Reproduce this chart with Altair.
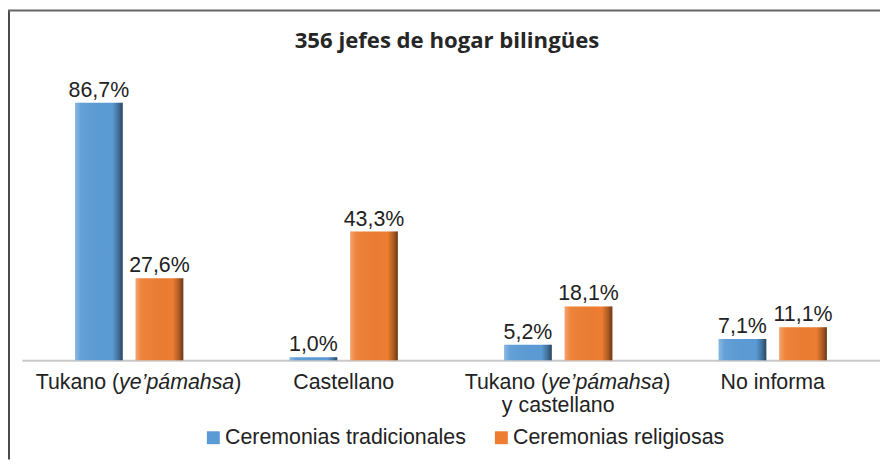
import altair as alt
import pandas as pd

# ---- data ----
categories = ["Tukano (ye\u2019pámahsa)", "Castellano",
              "Tukano (ye\u2019pámahsa) y castellano", "No informa"]
series = ["Ceremonias tradicionales", "Ceremonias religiosas"]
tradicionales = [86.7, 1.0, 5.2, 7.1]
religiosas = [27.6, 43.3, 18.1, 11.1]
colors = ["#5B9BD5", "#ED7D31"]

# category label pieces (the italic word is drawn in italics)
label_pre = ["Tukano (", "", "Tukano (", ""]
label_ital = ["ye\u2019pámahsa", "", "ye\u2019pámahsa", ""]
label_post = [")", "", ")", ""]
label_plain = ["", "Castellano", "\ny castellano", "No informa"]
title_text = ["356 jefes de hogar bilingües"]

# ---- style ----
FONT = "Liberation Sans"
FS = 21.5
TXT = "#222222"
W, H = 864, 299

# Arial / Liberation Sans advance widths (per 1000 em) to place the label pieces
AW = {"T": 611, "u": 556, "k": 500, "a": 556, "n": 556, "o": 556, " ": 278,
      "(": 333, ")": 333, "y": 500, "e": 556, "\u2019": 222, "p": 556,
      "á": 556, "m": 833, "h": 556, "s": 500}


def tw(s):
    return sum(AW.get(c, 556) for c in s) * FS / 1000.0


w_pre, w_ital, w_post = tw(label_pre[0]), tw(label_ital[0]), tw(label_post[0])
shift = 9
d_split = -(w_pre + w_ital + w_post) / 2 + w_pre + shift

rows = []
for i, c in enumerate(categories):
    rows.append({"cat": c, "serie": series[0], "value": tradicionales[i]})
    rows.append({"cat": c, "serie": series[1], "value": religiosas[i]})
df = pd.DataFrame(rows)

lab_df = pd.DataFrame({"cat": categories, "pre": label_pre, "ital": label_ital,
                       "post": label_post, "plain": label_plain})

x_enc = alt.X("cat:N", sort=categories,
              scale=alt.Scale(domain=categories, paddingInner=0, paddingOuter=0),
              axis=alt.Axis(labels=False, ticks=False, title=None, grid=False,
                            domainColor="#c9c9c9", domainWidth=2))
xo_enc = alt.XOffset("serie:N", sort=series,
                     scale=alt.Scale(domain=series, paddingInner=0.213, paddingOuter=0.877))
y_enc = alt.Y("value:Q", scale=alt.Scale(domain=[0, 100]), axis=None)

base = alt.Chart(df)

bars = base.mark_bar().encode(
    x=x_enc, xOffset=xo_enc, y=y_enc,
    color=alt.Color("serie:N", sort=series,
                    scale=alt.Scale(domain=series, range=colors),
                    legend=alt.Legend(title=None, orient="none", legendX=182, legendY=366,
                                      direction="horizontal", columns=2,
                                      symbolType="square", symbolSize=169,
                                      symbolStrokeWidth=0, labelFont=FONT,
                                      labelFontSize=FS, labelColor=TXT,
                                      labelOffset=1, columnPadding=24, padding=0,
                                      labelLimit=400)),
)

shade = base.mark_bar(
    color=alt.Gradient(
        gradient="linear", x1=0, x2=1, y1=0, y2=0,
        stops=[alt.GradientStop(offset=0, color="rgba(255,255,255,0.30)"),
               alt.GradientStop(offset=0.12, color="rgba(255,255,255,0.06)"),
               alt.GradientStop(offset=0.78, color="rgba(0,0,0,0.0)"),
               alt.GradientStop(offset=0.9, color="rgba(0,0,0,0.25)"),
               alt.GradientStop(offset=1, color="rgba(0,0,0,0.55)")])
).encode(x=x_enc, xOffset=xo_enc, y=y_enc)

values = base.transform_calculate(
    lab="replace(format(datum.value, '.1f'), '.', ',') + '%'"
).mark_text(font=FONT, fontSize=FS, color=TXT, baseline="alphabetic", dy=-6).encode(
    x=x_enc, xOffset=xo_enc, y=y_enc, text="lab:N")

lab_y = H + 29
lab_base = alt.Chart(lab_df)
pre_t = lab_base.mark_text(font=FONT, fontSize=FS, color=TXT, align="right",
                           baseline="alphabetic", dx=d_split).encode(
    x=x_enc, y=alt.value(lab_y), text="pre:N")
ital_t = lab_base.mark_text(font=FONT, fontSize=FS, color=TXT, align="left",
                            fontStyle="italic", baseline="alphabetic", dx=d_split).encode(
    x=x_enc, y=alt.value(lab_y), text="ital:N")
post_t = lab_base.mark_text(font=FONT, fontSize=FS, color=TXT, align="left",
                            baseline="alphabetic", dx=d_split + w_ital).encode(
    x=x_enc, y=alt.value(lab_y), text="post:N")
plain_t = lab_base.mark_text(font=FONT, fontSize=FS, color=TXT, align="center",
                             baseline="alphabetic", lineBreak="\n", lineHeight=23).encode(
    x=x_enc, y=alt.value(lab_y), text="plain:N")

title_t = alt.Chart(pd.DataFrame({"t": title_text})).mark_text(
    font="Open Sans", fontSize=22.3, fontWeight="bold", color="#262626",
    align="center", baseline="alphabetic").encode(
    x=alt.value(428), y=alt.value(-15), text="t:N")

frame_src = alt.Chart(pd.DataFrame({"k": [0]}))
left_line = frame_src.mark_rule(color="#4a4a4a", strokeWidth=2).encode(
    x=alt.value(-13), y=alt.value(-53), y2=alt.value(H + 100))
top_line = frame_src.mark_rule(color="#666666", strokeWidth=2).encode(
    x=alt.value(-14), x2=alt.value(W), y=alt.value(-53))

chart = alt.layer(
    bars, shade, values, pre_t, ital_t, post_t, plain_t, title_t, left_line, top_line
).properties(
    width=W, height=H,
    padding={"left": 14, "top": 54, "right": 0, "bottom": 100},
    autosize=alt.AutoSizeParams(type="none"),
).configure_view(stroke=None)

chart.save("out.html", embed_options={"renderer": "svg", "actions": False})
